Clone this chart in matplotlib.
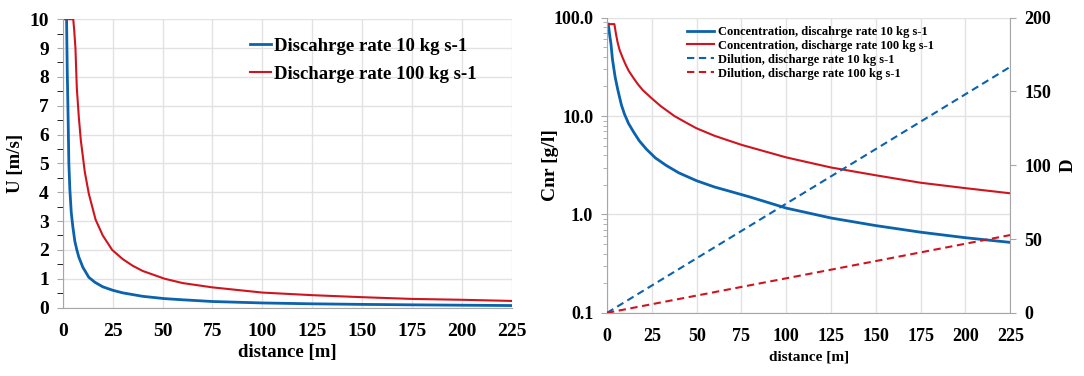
import numpy as np
import matplotlib
matplotlib.use("Agg")
import matplotlib.pyplot as plt
from matplotlib.ticker import MultipleLocator, FixedLocator, NullFormatter

plt.rcParams["font.family"] = ["Liberation Serif", "DejaVu Serif"]
plt.rcParams["font.weight"] = "bold"

# velocity, left panel
u_x_10 = [1.85, 2.2, 2.6, 3.0, 3.5, 4.2, 5, 6, 7, 8, 10, 13, 16, 20, 25, 30, 40, 51, 60, 75,
          100, 125, 150, 175, 200, 225]
u_10 = [10, 8.2, 6.7, 5.0, 4.1, 3.3, 2.8, 2.3, 2.0, 1.75, 1.4, 1.05, 0.88, 0.72, 0.6, 0.51, 0.39, 0.31, 0.27, 0.21,
        0.16, 0.13, 0.11, 0.095, 0.082, 0.07]
u_x_100 = [0, 5.2, 5.7, 6.3, 7, 8, 9, 11, 13, 16.4, 20, 24.7, 30, 35, 40, 51, 60, 75,
           100, 125, 150, 175, 200, 225]
u_100 = [10, 10, 9.6, 9.0, 7.6, 6.6, 5.8, 4.7, 3.95, 3.05, 2.5, 2.0, 1.68, 1.45, 1.27, 1.0, 0.85, 0.7,
         0.52, 0.43, 0.36, 0.3, 0.27, 0.23]

# concentration and dilution, right panel
c_x_10 = [0.7, 1.0, 1.5, 2.2, 3, 4.5, 6, 8, 9.7, 12, 15, 18, 22, 27, 33, 40, 50, 60, 68, 80,
          100, 125, 150, 175, 200, 225]
c_10 = [86, 78, 66, 54, 38, 25, 18.5, 13, 10.5, 8.4, 6.8, 5.6, 4.6, 3.75, 3.15, 2.65, 2.2, 1.9, 1.73, 1.5,
        1.16, 0.92, 0.77, 0.66, 0.58, 0.52]
c_x_100 = [0, 4.1, 5, 6, 7, 8.5, 10, 12, 14.4, 17, 20, 25, 30, 37.6, 45, 50, 60, 75,
           100, 125, 150, 175, 200, 225]
c_100 = [86, 86, 68, 55, 47, 40, 34.5, 29, 24.9, 21.3, 18.3, 15.1, 12.6, 10, 8.4, 7.5, 6.3, 5.1,
         3.8, 3.0, 2.5, 2.1, 1.85, 1.64]
d_x = [0, 50, 100, 150, 225]
d_10 = [0, 37, 74, 111, 166.7]
d_100 = [0, 11.7, 23.4, 35.1, 52.7]

blue = "#0b62ad"
red = "#d0141e"
grid_c = "#e2e2e2"
spine_c = "#a6a6a6"

fig = plt.figure(figsize=(10.84, 3.76), dpi=100)

# ---- left panel
ax1 = fig.add_axes([0.058, 0.182, 0.414, 0.767])
ax1.plot(u_x_10, u_10, color=blue, lw=2.0, label="Discahrge rate 10 kg s-1")
ax1.plot(u_x_100, u_100, color=red, lw=1.5, label="Discharge rate 100 kg s-1")
ax1.set_xlim(0, 225)
ax1.set_ylim(0, 10)
ax1.xaxis.set_major_locator(MultipleLocator(25))
ax1.yaxis.set_major_locator(MultipleLocator(1))
ax1.yaxis.set_minor_locator(MultipleLocator(0.5))
ax1.grid(True, color=grid_c, lw=1)
ax1.set_axisbelow(True)
for s in ["top", "right"]:
    ax1.spines[s].set_visible(False)
for s in ["left", "bottom"]:
    ax1.spines[s].set_color(spine_c)
ax1.tick_params(axis="both", labelsize=14, colors=spine_c, labelcolor="black", length=0, pad=6)
ax1.tick_params(axis="x", pad=11)
ax1.tick_params(axis="y", which="both", length=4, direction="out")
ax1.set_xlabel("distance [m]", fontsize=13.5, fontweight="bold", labelpad=3)
ax1.set_ylabel("U [m/s]", fontsize=13.5, fontweight="bold")
ax1.yaxis.set_label_coords(-0.087, 0.5)
ax1.legend(loc="upper left", bbox_to_anchor=(0.38, 0.995), frameon=False,
           handlelength=1.1, handletextpad=0.15, labelspacing=0.6, prop={"weight": "bold", "size": 13.5})

# ---- right panel
ax2 = fig.add_axes([0.560, 0.168, 0.372, 0.785])
ax2.plot(c_x_10, c_10, color=blue, lw=2.0, label="Concentration, discahrge rate 10 kg s-1")
ax2.plot(c_x_100, c_100, color=red, lw=1.5, label="Concentration, discharge rate 100 kg s-1")
ax2.set_yscale("log")
ax2.set_xlim(0, 225)
ax2.set_ylim(0.1, 100)
ax2.xaxis.set_major_locator(MultipleLocator(25))
ax2.yaxis.set_major_locator(FixedLocator([0.1, 1, 10, 100]))
ax2.set_yticklabels(["0.1", "1.0", "10.0", "100.0"])
ax2.yaxis.set_minor_formatter(NullFormatter())
ax2.grid(True, which="major", color=grid_c, lw=1)
ax2.set_axisbelow(True)
for s in ["top", "right"]:
    ax2.spines[s].set_visible(False)
for s in ["left", "bottom"]:
    ax2.spines[s].set_color(spine_c)
ax2.tick_params(axis="both", labelsize=13, colors=spine_c, labelcolor="black", length=0, pad=6)
ax2.tick_params(axis="x", pad=11)
ax2.tick_params(axis="y", which="major", length=4)
ax2.tick_params(axis="y", which="minor", length=3, colors=spine_c)
ax2.set_xlabel("distance [m]", fontsize=11, fontweight="bold", labelpad=4)
ax2.set_ylabel("Cnr [g/l]", fontsize=14, fontweight="bold")
ax2.yaxis.set_label_coords(-0.119, 0.5)

ax3 = ax2.twinx()
ax3.plot(d_x, d_10, color=blue, lw=1.5, ls=(0, (3.5, 2.2)), label="Dilution, discharge rate 10 kg s-1")
ax3.plot(d_x, d_100, color=red, lw=1.5, ls=(0, (3.5, 2.2)), label="Dilution, discharge rate 100 kg s-1")
ax3.set_ylim(0, 200)
ax3.yaxis.set_major_locator(MultipleLocator(50))
for s in ["top", "left", "bottom"]:
    ax3.spines[s].set_visible(False)
ax3.spines["right"].set_color(spine_c)
ax3.tick_params(axis="y", labelsize=13, colors=spine_c, labelcolor="black", length=4, pad=6)
ax3.set_ylabel("D", fontsize=13.5, fontweight="bold")
ax3.yaxis.set_label_coords(1.122, 0.5)

h1, l1 = ax2.get_legend_handles_labels()
h2, l2 = ax3.get_legend_handles_labels()
ax3.legend(h1 + h2, l1 + l2, loc="upper left", bbox_to_anchor=(0.17, 1.01), frameon=False,
           handlelength=2.2, handletextpad=0.3, labelspacing=0.15, prop={"weight": "bold", "size": 9})

fig.savefig("out.png", dpi=100)
